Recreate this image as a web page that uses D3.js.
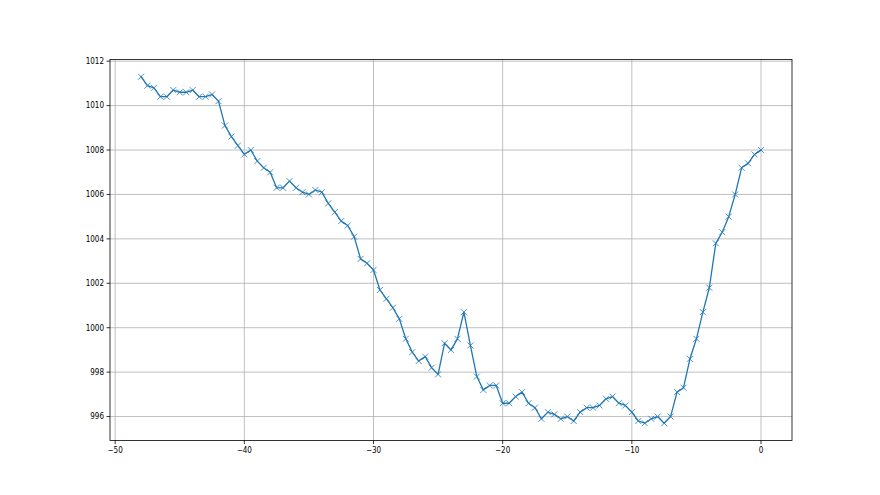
<!DOCTYPE html>
<html><head><meta charset="utf-8">
<script src="https://cdn.jsdelivr.net/npm/d3@7"></script>
<style>body{margin:0;background:#fff}svg{display:block}</style>
</head><body>
<script>
const hours = [-48,-47.5,-47,-46.5,-46,-45.5,-45,-44.5,-44,-43.5,-43,-42.5,-42,-41.5,-41,-40.5,-40,-39.5,-39,-38.5,-38,-37.5,-37,-36.5,-36,-35.5,-35,-34.5,-34,-33.5,-33,-32.5,-32,-31.5,-31,-30.5,-30,-29.5,-29,-28.5,-28,-27.5,-27,-26.5,-26,-25.5,-25,-24.5,-24,-23.5,-23,-22.5,-22,-21.5,-21,-20.5,-20,-19.5,-19,-18.5,-18,-17.5,-17,-16.5,-16,-15.5,-15,-14.5,-14,-13.5,-13,-12.5,-12,-11.5,-11,-10.5,-10,-9.5,-9,-8.5,-8,-7.5,-7,-6.5,-6,-5.5,-5,-4.5,-4,-3.5,-3,-2.5,-2,-1.5,-1,-0.5,0];
const pressure = [1011.3,1010.9,1010.8,1010.4,1010.4,1010.7,1010.6,1010.6,1010.7,1010.4,1010.4,1010.5,1010.2,1009.1,1008.6,1008.2,1007.8,1008.0,1007.5,1007.2,1007.0,1006.3,1006.3,1006.6,1006.3,1006.1,1006.0,1006.2,1006.1,1005.6,1005.2,1004.8,1004.6,1004.1,1003.1,1002.9,1002.6,1001.7,1001.3,1000.9,1000.4,999.5,998.9,998.5,998.7,998.2,997.9,999.3,999.0,999.5,1000.7,999.2,997.8,997.2,997.4,997.4,996.6,996.6,996.9,997.1,996.6,996.4,995.9,996.2,996.1,995.9,996.0,995.8,996.2,996.4,996.4,996.5,996.8,996.9,996.6,996.5,996.2,995.8,995.7,995.9,996.0,995.7,996.0,997.1,997.3,998.6,999.5,1000.7,1001.8,1003.8,1004.3,1005.0,1006.0,1007.2,1007.4,1007.8,1008.0];
const xTicks = [-50,-40,-30,-20,-10,0];
const yTicks = [996,998,1000,1002,1004,1006,1008,1010,1012];

const W = 880, H = 495;
const L = 110, R = 792, T = 59.4, B = 440.55;
const svg = d3.select("body").append("svg").attr("width", W).attr("height", H);

const xmin = d3.min(hours), xmax = d3.max(hours);
const ymin = d3.min(pressure), ymax = d3.max(pressure);
const xp = (xmax - xmin) * 0.05, yp = (ymax - ymin) * 0.05;
const x = d3.scaleLinear().domain([xmin - xp, xmax + xp]).range([L, R]);
const y = d3.scaleLinear().domain([ymin - yp, ymax + yp]).range([B, T]);

const fmt = d => String(d).replace("-", "\u2212");
const font = "'DejaVu Sans Condensed', 'DejaVu Sans', sans-serif";

// grid
const g = svg.append("g");
g.selectAll(".gx").data(xTicks).join("line")
  .attr("x1", d => x(d)).attr("x2", d => x(d)).attr("y1", T).attr("y2", B)
  .attr("stroke", "#b0b0b0").attr("stroke-width", 0.8);
g.selectAll(".gy").data(yTicks).join("line")
  .attr("x1", L).attr("x2", R).attr("y1", d => y(d)).attr("y2", d => y(d))
  .attr("stroke", "#b0b0b0").attr("stroke-width", 0.8);

// line
const data = hours.map((h, i) => [h, pressure[i]]);
svg.append("path").datum(data)
  .attr("d", d3.line().x(d => x(d[0])).y(d => y(d[1])))
  .attr("fill", "none").attr("stroke", "#1f77b4").attr("stroke-width", 1.3)
  .attr("stroke-linejoin", "round").attr("stroke-linecap", "square");
// markers
const m = 3;
svg.selectAll(".mk").data(data).join("path")
  .attr("d", d => {
    const cx = x(d[0]), cy = y(d[1]);
    return `M${cx-m},${cy-m}L${cx+m},${cy+m}M${cx-m},${cy+m}L${cx+m},${cy-m}`;
  })
  .attr("stroke", "#1f77b4").attr("stroke-width", 0.8).attr("fill", "none");

// spines
svg.append("rect").attr("x", L).attr("y", T).attr("width", R - L).attr("height", B - T)
  .attr("fill", "none").attr("stroke", "#000").attr("stroke-width", 0.8);

// ticks
svg.selectAll(".tx").data(xTicks).join("line")
  .attr("x1", d => x(d)).attr("x2", d => x(d)).attr("y1", B).attr("y2", B + 3.5)
  .attr("stroke", "#000").attr("stroke-width", 0.8);
svg.selectAll(".tlx").data(xTicks).join("text")
  .attr("x", d => x(d)).attr("y", B + 12)
  .attr("text-anchor", "middle").attr("font-family", font).attr("font-size", 8)
  .text(fmt);
svg.selectAll(".ty").data(yTicks).join("line")
  .attr("x1", L - 3.5).attr("x2", L).attr("y1", d => y(d)).attr("y2", d => y(d))
  .attr("stroke", "#000").attr("stroke-width", 0.8);
svg.selectAll(".tly").data(yTicks).join("text")
  .attr("x", L - 6).attr("y", d => y(d)).attr("dy", "0.35em")
  .attr("text-anchor", "end").attr("font-family", font).attr("font-size", 8)
  .text(fmt);
</script>
</body></html>
